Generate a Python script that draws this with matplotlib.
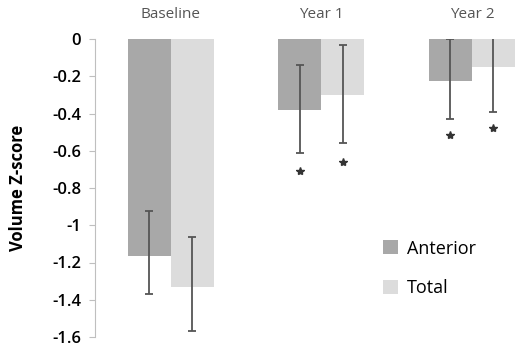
import numpy as np
import matplotlib
matplotlib.use('Agg')
from matplotlib import pyplot as plt

# data
groups = ['Baseline', 'Year 1', 'Year 2']
series = ['Anterior', 'Total']
anterior = [-1.165, -0.38, -0.225]
total = [-1.33, -0.30, -0.15]
anterior_err_lo = [0.205, 0.23, 0.205]
anterior_err_hi = [0.24, 0.24, 0.225]
total_err_lo = [0.24, 0.26, 0.24]
total_err_hi = [0.265, 0.27, 0.24]
# significance markers (y positions of the asterisks), None = no marker
anterior_star = [None, -0.71, -0.515]
total_star = [None, -0.66, -0.48]
yticks = [0, -0.2, -0.4, -0.6, -0.8, -1, -1.2, -1.4, -1.6]

plt.rcParams['font.family'] = ['Open Sans', 'DejaVu Sans']

fig = plt.figure(figsize=(5.2, 3.49), dpi=100)
ax = fig.add_axes([95 / 520, 1 - 337 / 349, (520 - 95) / 520, (337 - 39) / 349])

x = np.arange(len(groups))
w = 0.286
c_ant = '#a8a8a8'
c_tot = '#dcdcdc'

ax.bar(x - w / 2, anterior, w, color=c_ant, label=series[0])
ax.bar(x + w / 2, total, w, color=c_tot, label=series[1])
ax.errorbar(x - w / 2, anterior, yerr=[anterior_err_lo, anterior_err_hi], fmt='none',
            ecolor='#555555', elinewidth=1.3, capsize=3, capthick=1.3)
ax.errorbar(x + w / 2, total, yerr=[total_err_lo, total_err_hi], fmt='none',
            ecolor='#555555', elinewidth=1.3, capsize=3, capthick=1.3)

for i in range(len(groups)):
    if anterior_star[i] is not None:
        ax.plot(x[i] - w / 2, anterior_star[i], marker='*', color='#333333', ms=6)
    if total_star[i] is not None:
        ax.plot(x[i] + w / 2, total_star[i], marker='*', color='#333333', ms=6)

ax.set_ylim(-1.6, 0)
ax.set_xlim(-0.505, 2.32)
ax.set_yticks(yticks)
ax.set_yticklabels(['%g' % t for t in yticks], fontsize=12, fontweight='semibold')
ax.set_xticks(x)
ax.set_xticklabels(groups, fontsize=11, color='#555555')
ax.xaxis.tick_top()
ax.tick_params(axis='x', length=0, pad=12)
ax.tick_params(axis='y', length=4, color='#bfbfbf', pad=6)
for s in ['top', 'right', 'bottom']:
    ax.spines[s].set_visible(False)
ax.spines['left'].set_color('#bfbfbf')
ax.set_ylabel('Volume Z-score', fontsize=12, fontweight='bold')
ax.yaxis.set_label_coords(-0.16, 0.5)

ax.legend(loc='center left', bbox_to_anchor=(0.64, 0.23), frameon=False, fontsize=13,
          handlelength=0.8, handleheight=0.8, labelspacing=1.2, handletextpad=0.5)

fig.savefig('out.png', dpi=100)
